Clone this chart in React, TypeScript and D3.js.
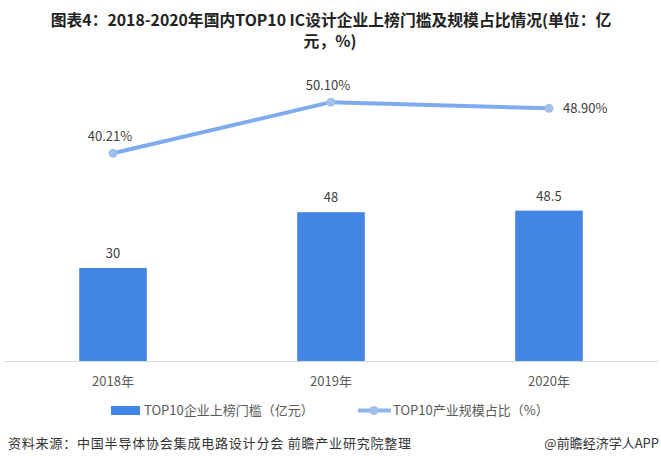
import React from 'react';
import * as d3 from 'd3';

const years = ['2018年', '2019年', '2020年'];
const threshold = [30, 48, 48.5];
const thresholdLabels = ['30', '48', '48.5'];
const share = [40.21, 50.1, 48.9];
const shareLabels = ['40.21%', '50.10%', '48.90%'];

const W = 661;
const H = 464;
const font = '"Microsoft YaHei", "Noto Sans CJK SC", "Noto Sans", sans-serif';

const App: React.FC = () => {
  const x = d3.scaleBand<string>()
    .domain(years)
    .range([4, 658])
    .paddingInner(0.69)
    .paddingOuter(0.345);
  const yBar = d3.scaleLinear().domain([0, 100]).range([361, 51]);
  const yLine = d3.scaleLinear().domain([0, 60]).range([361, 51]);
  const cx = (d: string) => (x(d) || 0) + x.bandwidth() / 2;

  const line = d3.line<number>()
    .x((d, i) => cx(years[i]))
    .y(d => yLine(d));

  return (
    <svg width={W} height={H} style={{ position: 'absolute', left: 0, top: 0, background: '#fff' }}>
      {/* title */}
      <g fontFamily={'"Liberation Sans Narrow", "Noto Sans CJK SC", sans-serif'} fontWeight="bold" fill="#222" textAnchor="middle">
        <text x={331} y={26} fontSize={15.8}>图表4：2018-2020年国内TOP10 IC设计企业上榜门槛及规模占比情况(单位：亿</text>
        <text x={330} y={47} fontSize={15.8}>元，%)</text>
      </g>

      {/* bars */}
      {years.map((d, i) => (
        <rect key={d} x={x(d)} y={yBar(threshold[i])} width={x.bandwidth()}
          height={yBar(0) - yBar(threshold[i])} fill="#4285e4" />
      ))}
      <line x1={4} x2={658} y1={361.5} y2={361.5} stroke="#d9d9d9" />

      {/* bar labels */}
      <g fontFamily={font} fontSize={13} fill="#404040" textAnchor="middle">
        {years.map((d, i) => (
          <text key={d} x={cx(d)} y={yBar(threshold[i]) - 10}>{thresholdLabels[i]}</text>
        ))}
      </g>

      {/* share line */}
      <path d={line(share) || ''} fill="none" stroke="#7eaaee" strokeWidth={4} strokeLinejoin="round" />
      {share.map((v, i) => (
        <circle key={i} cx={cx(years[i])} cy={yLine(v)} r={4.5} fill="#a2c0ea" />
      ))}
      <g fontFamily={font} fontSize={13} fill="#404040">
        {share.map((v, i) => i < 2 ? (
          <text key={i} x={cx(years[i]) - 3} y={yLine(v) - 12} textAnchor="middle">{shareLabels[i]}</text>
        ) : (
          <text key={i} x={cx(years[i]) + 14} y={yLine(v) + 5} textAnchor="start">{shareLabels[i]}</text>
        ))}
      </g>

      {/* x axis labels */}
      <g fontFamily={font} fontSize={13} fill="#595959" textAnchor="middle">
        {years.map(d => (
          <text key={d} x={cx(d)} y={386}>{d}</text>
        ))}
      </g>

      {/* legend */}
      <g fontFamily={font} fontSize={13} fill="#595959">
        <rect x={111} y={406} width={29} height={9} fill="#4285e4" />
        <text x={144} y={415}>TOP10企业上榜门槛（亿元）</text>
        <line x1={358} x2={391} y1={410.5} y2={410.5} stroke="#8db4ec" strokeWidth={4} />
        <circle cx={374} cy={410.5} r={4.5} fill="#a2c0ea" />
        <text x={393} y={415}>TOP10产业规模占比（%）</text>
      </g>

      {/* source */}
      <g fontFamily={font} fontSize={13} fill="#333" letterSpacing={0.8}>
        <text x={8} y={448}>资料来源：中国半导体协会集成电路设计分会 前瞻产业研究院整理</text>
        <text x={659} y={448} textAnchor="end" letterSpacing={0}>@前瞻经济学人APP</text>
      </g>
    </svg>
  );
};

export default App;
